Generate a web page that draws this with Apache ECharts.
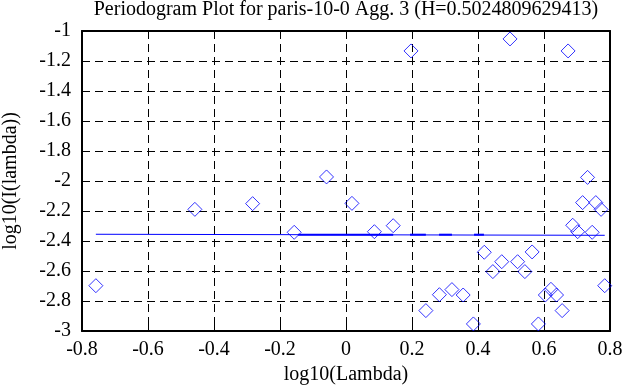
<!DOCTYPE html>
<html><head><meta charset="utf-8">
<script src="https://cdn.jsdelivr.net/npm/echarts@6/dist/echarts.min.js"></script>
<style>html,body{margin:0;padding:0;background:#fff}#c{width:642px;height:387px}</style>
</head><body><div id="c"></div>
<script>
const titleText = 'Periodogram Plot for paris-10-0 Agg. 3 (H=0.5024809629413)';
const xName = 'log10(Lambda)';
const yName = 'log10(I(lambda))';
const xVals = [-0.758, -0.458, -0.283, -0.157, -0.059, 0.018, 0.086, 0.143, 0.197, 0.242,
  0.283, 0.321, 0.355, 0.386, 0.419, 0.445, 0.472, 0.497, 0.520, 0.542,
  0.564, 0.583, 0.604, 0.621, 0.638, 0.655, 0.673, 0.687, 0.702, 0.717,
  0.732, 0.746, 0.757, 0.773, 0.784];
const yVals = [-2.698, -2.189, -2.151, -2.342, -1.973, -2.149, -2.338, -2.298, -1.133, -2.864,
  -2.758, -2.724, -2.760, -2.953, -2.475, -2.604, -2.538, -1.053, -2.538, -2.604,
  -2.473, -2.953, -2.760, -2.722, -2.760, -2.864, -1.133, -2.295, -2.338, -2.144,
  -1.976, -2.342, -2.144, -2.189, -2.698];
const fitX = [-0.758, 0.784];
const fitY = [-2.355, -2.362];
const segStart = [-0.145, 0.194, 0.282, 0.388];
const segEnd = [0.143, 0.242, 0.321, 0.418];
const segY = -2.358;
const xTicks = {min: -0.8, max: 0.8, interval: 0.2};
const yTicks = {min: -3, max: -1, interval: 0.2};

const font = 'Liberation Serif';
const blue = '#0000ff';
const chart = echarts.init(document.getElementById('c'), null, {renderer: 'canvas'});
const pts = xVals.map((x, i) => [x, yVals[i]]);
const series = [
  {type: 'line', data: fitX.map((x, i) => [x, fitY[i]]), symbol: 'none',
   lineStyle: {color: blue, width: 1}, silent: true, z: 2},
  {type: 'scatter', data: pts, symbol: 'diamond', symbolSize: 14,
   itemStyle: {color: 'rgba(0,0,0,0)', borderColor: blue, borderWidth: 1}, z: 3}
];
segStart.forEach((s, i) => series.push({type: 'line', data: [[s, segY], [segEnd[i], segY]],
  symbol: 'none', lineStyle: {color: blue, width: 2}, silent: true, z: 2}));

const lbl = {fontFamily: font, fontSize: 20, color: '#000'};
chart.setOption({
  animation: false,
  backgroundColor: '#fff',
  title: {text: titleText, left: 346, textAlign: 'center', top: 0, padding: 0,
    textStyle: {fontFamily: font, fontSize: 20, fontWeight: 'normal', color: '#000'}},
  grid: {left: 82, right: 32, top: 31, bottom: 56, containLabel: false, outerBoundsMode: 'none'},
  xAxis: [
    {type: 'value', position: 'bottom', ...xTicks, name: xName, nameLocation: 'middle', nameGap: 33,
     nameTextStyle: lbl,
     axisLine: {show: true, onZero: false, lineStyle: {color: '#000', width: 2}},
     axisTick: {show: true, inside: true, length: 6, lineStyle: {color: '#000', width: 1}},
     axisLabel: {...lbl, margin: 9},
     splitLine: {show: true, lineStyle: {color: '#000', width: 1, type: [8, 5]}}},
    {type: 'value', position: 'top', ...xTicks,
     axisLine: {show: true, onZero: false, lineStyle: {color: '#000', width: 2}},
     axisTick: {show: true, inside: true, length: 6, lineStyle: {color: '#000', width: 1}},
     axisLabel: {show: false}, splitLine: {show: false}}
  ],
  yAxis: [
    {type: 'value', position: 'left', ...yTicks, name: yName, nameLocation: 'middle', nameGap: 61,
     nameTextStyle: lbl,
     axisLine: {show: true, onZero: false, lineStyle: {color: '#000', width: 2}},
     axisTick: {show: true, inside: true, length: 6, lineStyle: {color: '#000', width: 1}},
     axisLabel: {...lbl, margin: 11, padding: [4, 0, 0, 0]},
     splitLine: {show: true, lineStyle: {color: '#000', width: 1, type: [8, 5]}}},
    {type: 'value', position: 'right', ...yTicks,
     axisLine: {show: true, onZero: false, lineStyle: {color: '#000', width: 2}},
     axisTick: {show: true, inside: true, length: 6, lineStyle: {color: '#000', width: 1}},
     axisLabel: {show: false}, splitLine: {show: false}}
  ],
  series: series
});
</script></body></html>
